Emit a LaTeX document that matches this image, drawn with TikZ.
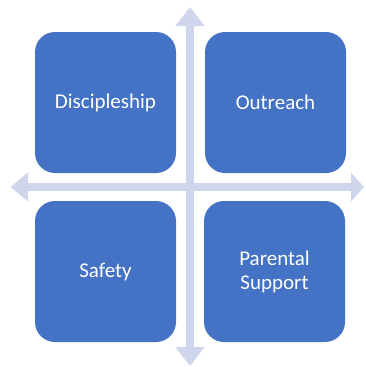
\documentclass[tikz,border=0pt]{standalone}
\usepackage{fontspec}
\setmainfont{Carlito}
\usetikzlibrary{arrows.meta}
\definecolor{boxblue}{HTML}{4472C4}
\definecolor{arrowlav}{HTML}{CFD5EA}
\begin{document}
\begin{tikzpicture}[x=1pt,y=-1pt,
  quad/.style={fill=boxblue, draw=none, rounded corners=20pt, minimum width=141pt, minimum height=141pt,
    text=white, align=center, font=\fontsize{21}{24}\selectfont, inner sep=0pt},
  axis/.style={draw=arrowlav, line width=8pt}]
\useasboundingbox (0,0) rectangle (365,367);
\coordinate (top) at (190,7);
\coordinate (bot) at (190,366);
\coordinate (lft) at (10.5,187);
\coordinate (rgt) at (364,187);
\draw[axis, {Triangle[width=28pt,length=19pt]}-{Triangle[width=28pt,length=19pt]}] (top) -- (bot);
\draw[axis, {Triangle[width=28pt,length=17.5pt]}-{Triangle[width=28pt,length=13pt]}] (lft) -- (rgt);
\node[quad] (disc) at (105.5,102.5) {Discipleship};
\node[quad] (outr) at (275.5,102.5) {Outreach};
\node[quad] (safe) at (105.5,271.5) {Safety};
\node[quad] (pare) at (274.5,271.5) {Parental\\Support};
\end{tikzpicture}
\end{document}
